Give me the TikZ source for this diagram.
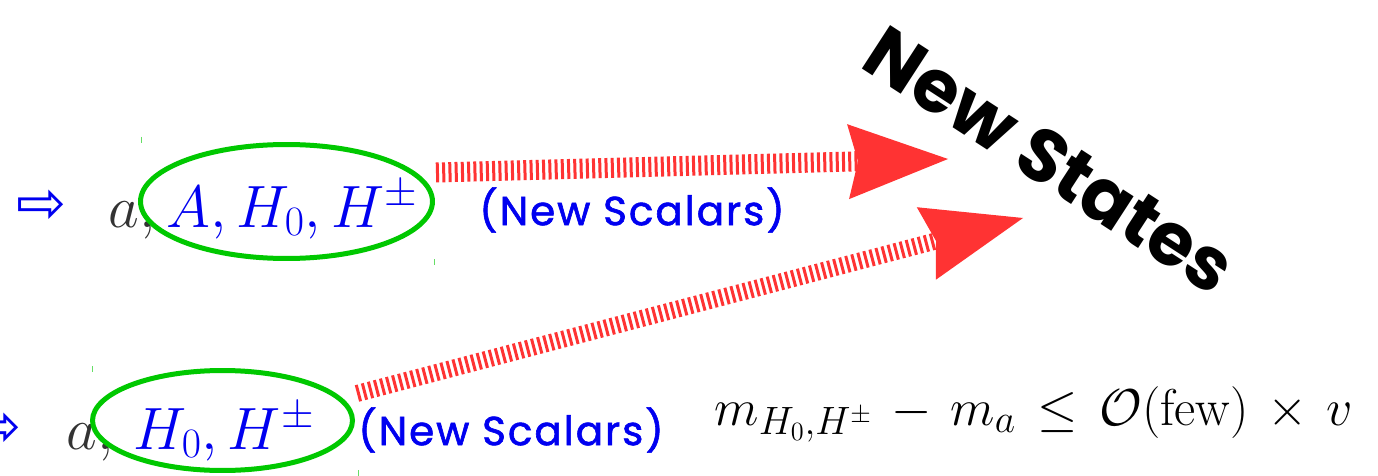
\RequirePackage{fix-cm}
\documentclass[tikz,border=0pt]{standalone}
\usepackage{fontspec}
\newfontfamily\handfont{Poppins}[LetterSpace=5, FakeBold=1.5]
\newfontfamily\statesfont{Poppins}
\newfontfamily\symbfont{DejaVu Sans}
\DeclareMathSizes{29.5}{29.5}{22.5}{15}
\usetikzlibrary{arrows.meta, positioning, calc, shapes.geometric}
\definecolor{hgreen}{RGB}{0,200,0}
\definecolor{hblue}{RGB}{0,0,240}
\definecolor{hred}{RGB}{255,51,51}
\tikzset{
  bigmath/.style={inner sep=0pt, anchor=base west, font=\fontsize{34}{40}\selectfont},
  scalars/.style={inner sep=0pt, anchor=west, text=hblue, font=\handfont\fontsize{23}{28}\selectfont},
  bullet/.style={inner sep=0pt, text=hblue, font=\symbfont\fontsize{34}{40}\selectfont},
  circled/.style={ellipse, draw=hgreen, line width=0.1cm, inner sep=0pt},
  stripes/.style={hred, dash pattern=on 0.06cm off 0.065cm,
    -{Stealth[length=2cm, width=1.5cm, inset=0.2cm, line width=0pt]}},
  cornertick/.style={hgreen!60, line width=0.02cm}
}

\begin{document}
\begin{tikzpicture}[x=0.02cm, y=-0.02cm]
  \useasboundingbox (0,0) rectangle (1378,476);
  \fill[white] (0,0) rectangle (1378,476);

  \node[bullet] (b1) at (42,207) {⇨};
  \node[bigmath, text=black!80] (a1) at (108,227) {$a,$};
  \node[bigmath, text=hblue] (s1) at (166,227) {$A, H_0, H^\pm$};
  \node[circled, minimum width=5.84cm, minimum height=2.28cm] (e1) at (286.5,201.5) {};
  \node[scalars] (n1) at (479,210) {(New Scalars)};

  \node[bullet] (b2) at (-3,430) {⇨};
  \node[bigmath, text=black!80] (a2) at (66,449) {$a,$};
  \node[bigmath, text=hblue] (s2) at (133,449) {$H_0, H^\pm$};
  \node[circled, minimum width=5.2cm, minimum height=2cm] (e2) at (222.5,420.5) {};
  \node[scalars] (n2) at (358,430) {(New Scalars)};
  \node[bigmath, font=\fontsize{29.5}{34}\selectfont] (f2) at (714,425)
    {\medmuskip=6.5mu \thickmuskip=7.5mu
     $m_{H_0,H^\pm} - m_a \leq \mathcal{O}(\mathrm{few}) \times v$};

  \node[rotate=-33, font=\statesfont\bfseries\fontsize{42}{48}\selectfont] (ns) at (1050,160) {New States};

  \coordinate (t1) at (948,159);
  \coordinate (t2) at (1023,218);
  \draw[stripes, line width=0.4cm] ([shift={(1,-29)}]e1.east) -- (t1);
  \draw[stripes, line width=0.34cm] ([shift={(2,-27)}]e2.east) -- (t2);

  \foreach \x/\y in {141/137, 434/259, 92/366, 358/470} {
    \draw[cornertick] (\x,\y) -- (\x,\y+6);
  }
\end{tikzpicture}
\end{document}
